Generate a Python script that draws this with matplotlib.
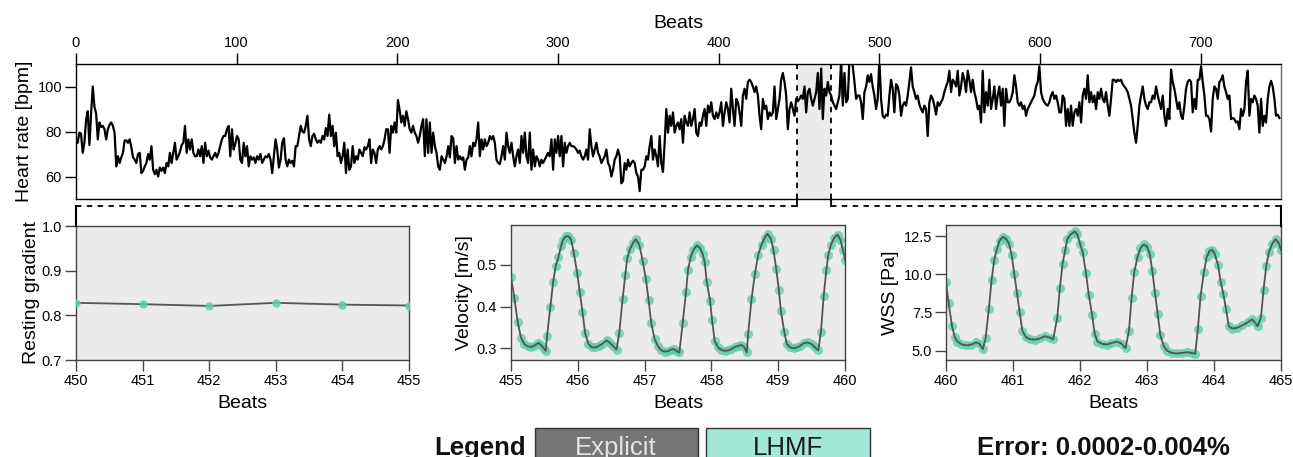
import numpy as np
import matplotlib
matplotlib.use("Agg")
import matplotlib.pyplot as plt
from matplotlib.patches import Rectangle
from matplotlib.lines import Line2D

plt.rcParams['font.family'] = ['Liberation Sans', 'DejaVu Sans']

# ---------------- data ----------------
# Heart rate trace (approx. one value per beat), read in three segments
hr_a = [75, 75, 79.5, 79, 70.5, 75, 85, 89, 74, 88, 100, 91, 88, 76.5, 84, 82, 82.5, 81, 76.5, 81, 83, 84, 82.5, 79.5,
        64.5, 69, 66, 68.5, 70.5, 76, 76, 75, 76.5, 73, 68.5, 67.5, 66, 70, 70.5, 61.5, 62.5, 64.5, 66, 70, 67.5, 73.5,
        63, 61, 63, 60, 64, 62.5, 64, 61.5, 66, 64.5, 70.5, 66, 70.5, 75, 67.5, 69, 71, 74, 75, 82.5, 70.5, 76.5, 72,
        76.5, 70.5, 69, 69, 72, 69, 73.5, 66, 75, 69, 71.5, 68.5, 67.5, 69, 70.5, 68.5, 70.5, 73.5, 76.5, 78, 78, 81,
        82.5, 69, 81, 72, 74.5, 78, 76.5, 67.5, 66, 75, 69, 73.5, 64.5, 69, 67.5, 68.5, 66, 69, 67.5, 70, 66, 67.5, 69,
        68.5, 70, 67.5, 61.5, 69, 76.5, 72, 64, 67.5, 75, 77, 67.5, 64.5, 67.5, 66, 67, 64.5, 73.5, 73.5, 78, 82.5, 80,
        79.5, 82.5, 87, 76.5, 73.5, 78, 79, 76.5, 75, 76, 75, 78, 76.5, 81.5, 78, 87.5, 78, 82.5, 73.5, 79.5, 69, 70.5,
        66, 69, 75, 61.5, 72, 63, 64.5, 73.5, 66, 69, 67.5, 72, 70.5, 69, 73, 72, 73.5, 76.5, 66, 72, 70.5, 66, 72,
        73.5, 72, 73.5, 76.5, 81, 81, 70.5, 82.5, 79.5, 84, 79.5, 94, 89.5, 84, 87, 82.5, 89, 85.5, 81, 79.5, 82.5,
        79.5, 78, 75, 78, 82.5, 85.5, 69, 85.5, 70.5, 84, 70.5, 79.5, 73.5, 70.5, 64.5, 63, 69, 67.5, 66, 69, 73.5]
hr_b = [68.5, 78, 77, 66, 73.5, 67.5, 69, 67.5, 68.5, 63, 67.5, 68.5, 73.5, 69, 75, 73.5, 76.5, 84, 69, 76.5, 72,
        76.5, 73.5, 75, 78, 76.5, 78, 75, 67.5, 66, 65.5, 69, 73.5, 67.5, 79.5, 73.5, 70.5, 75, 69, 64.5, 69, 72, 66,
        78, 70.5, 79.5, 69, 66, 79.5, 63, 72, 64.5, 69, 67.5, 64.5, 67.5, 66, 67.5, 69, 70.5, 69, 76.5, 63, 76.5, 70.5,
        78, 69, 78, 64.5, 75, 70.5, 73.5, 75, 73.5, 73.5, 73, 72, 70.5, 71.5, 69, 67.5, 69, 72, 67.5, 81, 73.5, 69, 72,
        75, 70.5, 69, 66, 67.5, 69, 72, 66, 64.5, 60, 63, 67.5, 69, 72, 69, 57, 58, 66, 63, 67.5, 64.5, 66, 67, 66,
        61.5, 60, 53.5, 63, 63, 64.5, 69, 67.5, 73.5, 78, 67.5, 72, 69, 64.5, 78, 66, 62, 75, 90, 79.5, 87, 82.5, 88.5,
        79.5, 82.5, 84, 81, 85.5, 75, 87, 84, 82.5, 88.5, 82.5, 85.5, 90, 79.5, 78, 84, 82.5, 87, 90, 82.5, 91.5, 88.5,
        93, 87, 85.5, 88.5, 86, 88.5, 93, 82.5, 88.5, 93, 90, 84, 99, 90, 82.5, 94.5, 93, 88.5, 82.5, 96, 99, 94.5,
        102, 103, 102, 100, 97.5, 100, 96, 87, 81, 94.5, 90, 91.5, 85.5, 88.5, 87, 88.5, 100, 85.5, 90, 94.5, 103, 106,
        102, 96, 81, 90, 93, 90, 87, 94.5, 93.5, 94.5, 96, 94.5, 100, 88.5, 97.5, 99, 94.5, 91.5, 94.5, 97.5, 106, 90,
        108, 85.5, 99, 96, 102, 97.5, 96, 93, 91.5, 90, 93, 96, 112, 91.5, 106, 93, 94.5, 112, 112, 109, 102, 94.5, 96,
        96, 93, 85.5, 97.5, 100, 105]
hr_c = [102, 105.5, 100, 96, 90, 94.5, 112, 94.5, 87, 86, 87.5, 87, 96, 103, 99, 88.5, 101, 100, 96, 87, 91.5, 93,
        91.5, 96, 102, 108.5, 100, 97.5, 94.5, 96, 92, 90, 88.5, 91.5, 90, 78, 93, 96, 94.5, 91.5, 87.5, 93, 91.5, 93,
        94.5, 97.5, 100, 102, 107, 97.5, 103, 102, 100, 107, 96, 100, 106, 103, 97.5, 107, 103, 97.5, 103, 97.5, 94.5,
        90, 91.5, 84, 107, 88.5, 97.5, 91.5, 103, 90, 94.5, 100, 90, 96, 100, 91.5, 99, 82.5, 99, 93, 93, 94.5, 97.5,
        105, 100, 93, 91.5, 93, 90, 91.5, 87, 90, 91.5, 93, 94.5, 96, 100, 102, 109, 97.5, 94.5, 93, 92, 91.5, 93, 96,
        97.5, 94.5, 96, 93, 88.5, 88.5, 96, 94.5, 82.5, 90, 82.5, 91.5, 82.5, 88.5, 90, 87, 93, 84, 96, 99, 94.5, 105,
        93, 97.5, 93, 96, 90, 97.5, 94.5, 99, 94.5, 93, 97.5, 91.5, 87, 94.5, 103, 103, 102, 103, 102.5, 103, 101, 100,
        99, 97.5, 94.5, 91.5, 85.5, 79.5, 75, 82.5, 91.5, 96, 100, 94.5, 91.5, 90, 93, 93, 96, 94.5, 100, 96, 93, 90,
        96, 87, 82.5, 90, 85.5, 107.5, 102, 99, 94.5, 90, 93, 87, 85.5, 91.5, 99, 102, 103, 102, 88.5, 94.5, 90, 103,
        103, 109, 102, 96, 87, 87, 85.5, 80, 94.5, 100, 99, 94.5, 102, 103, 105, 100, 97.5, 94.5, 96, 85.5, 86, 85.5,
        84, 84.5, 81, 90, 87, 90, 102, 107, 87, 94.5, 93, 96, 94.5, 91.5, 79.5, 94.5, 82.5, 87, 84, 94.5, 100, 102.5,
        100, 94.5, 87, 87.5, 86]
seg_a_range = (0.0, 231.7)
seg_b_range = (232.7, 492.8)
seg_c_range = (493.8, 749.0)
zoom_window = (449.0, 470.0)

# Resting gradient
rg_beats = [450, 451, 452, 453, 454, 455]
rg_vals = [0.828, 0.825, 0.821, 0.828, 0.824, 0.822]

# Velocity
vel_t = [455.00, 455.05, 455.10, 455.15, 455.20, 455.25, 455.30, 455.35, 455.41, 455.45,
         455.50, 455.52, 455.54, 455.59, 455.63, 455.67, 455.71, 455.75, 455.78, 455.82,
         455.86, 455.90, 455.94, 455.99, 456.03, 456.07, 456.11, 456.16, 456.21, 456.26,
         456.31, 456.36, 456.43, 456.48, 456.53, 456.58, 456.62, 456.67, 456.71, 456.74,
         456.78, 456.83, 456.87, 456.92, 456.97, 457.02, 457.06, 457.10, 457.15, 457.20,
         457.25, 457.30, 457.35, 457.40, 457.44, 457.48, 457.52, 457.57, 457.62, 457.65,
         457.69, 457.73, 457.78, 457.83, 457.87, 457.90, 457.93, 457.98, 458.01, 458.05,
         458.10, 458.15, 458.20, 458.25, 458.30, 458.35, 458.40, 458.45, 458.49, 458.53,
         458.55, 458.60, 458.65, 458.70, 458.75, 458.80, 458.84, 458.89, 458.93, 458.97,
         459.01, 459.04, 459.09, 459.13, 459.18, 459.23, 459.28, 459.33, 459.38, 459.44,
         459.50, 459.55, 459.60, 459.64, 459.68, 459.72, 459.75, 459.79, 459.84, 459.89,
         459.93, 459.97, 460.00]
vel_v = [0.470, 0.421, 0.363, 0.325, 0.310, 0.305, 0.303, 0.306, 0.313, 0.308,
         0.298, 0.294, 0.330, 0.400, 0.458, 0.497, 0.518, 0.545, 0.560, 0.568,
         0.568, 0.560, 0.529, 0.480, 0.434, 0.387, 0.336, 0.310, 0.302, 0.302,
         0.305, 0.310, 0.319, 0.313, 0.305, 0.297, 0.336, 0.417, 0.475, 0.515,
         0.537, 0.553, 0.561, 0.548, 0.510, 0.465, 0.415, 0.360, 0.322, 0.305,
         0.295, 0.292, 0.293, 0.297, 0.298, 0.293, 0.290, 0.360, 0.435, 0.488,
         0.518, 0.535, 0.546, 0.540, 0.525, 0.506, 0.459, 0.414, 0.367, 0.317,
         0.302, 0.296, 0.294, 0.295, 0.298, 0.303, 0.306, 0.308, 0.303, 0.290,
         0.335, 0.417, 0.477, 0.523, 0.548, 0.565, 0.574, 0.562, 0.535, 0.490,
         0.440, 0.390, 0.340, 0.310, 0.302, 0.300, 0.302, 0.306, 0.312, 0.314,
         0.310, 0.302, 0.295, 0.340, 0.424, 0.487, 0.524, 0.548, 0.565, 0.572,
         0.560, 0.535, 0.512]

# Wall shear stress
wss_t = [460.00, 460.04, 460.09, 460.13, 460.17, 460.23, 460.30, 460.38, 460.45, 460.50,
         460.55, 460.59, 460.64, 460.68, 460.72, 460.76, 460.80, 460.85, 460.90, 460.94,
         460.98, 461.02, 461.06, 461.10, 461.14, 461.19, 461.25, 461.33, 461.40, 461.48,
         461.55, 461.60, 461.66, 461.70, 461.74, 461.78, 461.81, 461.86, 461.92, 461.96,
         462.00, 462.04, 462.09, 462.13, 462.18, 462.22, 462.26, 462.33, 462.40, 462.47,
         462.55, 462.62, 462.68, 462.73, 462.77, 462.81, 462.86, 462.90, 462.95, 463.00,
         463.04, 463.08, 463.12, 463.16, 463.20, 463.25, 463.30, 463.37, 463.45, 463.52,
         463.60, 463.67, 463.72, 463.76, 463.80, 463.85, 463.89, 463.93, 463.97, 464.01,
         464.06, 464.10, 464.14, 464.18, 464.22, 464.27, 464.35, 464.42, 464.50, 464.57,
         464.62, 464.65, 464.70, 464.74, 464.78, 464.82, 464.87, 464.92, 464.97, 465.00]
wss_v = [9.50, 8.10, 6.60, 5.90, 5.60, 5.42, 5.35, 5.40, 5.55, 5.45,
         5.10, 5.80, 7.75, 9.60, 10.95, 11.65, 12.20, 12.45, 12.30, 12.00,
         11.25, 10.00, 8.75, 7.50, 6.30, 5.90, 5.75, 5.72, 5.80, 5.95,
         5.85, 5.75, 7.15, 9.10, 10.70, 11.60, 12.30, 12.60, 12.80, 12.60,
         12.00, 11.45, 10.05, 8.67, 7.36, 6.10, 5.60, 5.45, 5.40, 5.50,
         5.60, 5.45, 5.17, 6.30, 8.45, 10.15, 11.15, 11.70, 11.95, 11.80,
         11.35, 10.20, 8.75, 7.40, 6.00, 5.30, 5.00, 4.85, 4.82, 4.85,
         4.90, 4.85, 4.80, 6.45, 8.60, 10.15, 11.10, 11.50, 11.60, 11.35,
         10.60, 9.50, 8.70, 7.70, 6.60, 6.45, 6.50, 6.65, 6.85, 7.05,
         6.80, 6.60, 7.15, 9.00, 10.55, 11.45, 12.00, 12.30, 12.00, 11.60]

# ---------------- figure ----------------
W, H = 1293, 457
fig = plt.figure(figsize=(W / 100, H / 100), dpi=100)


def box(x0, y0, x1, y1):
    return [x0 / W, 1 - y1 / H, (x1 - x0) / W, (y1 - y0) / H]


def fx(x):
    return x / W


def fy(y):
    return 1 - y / H


TICK_FS = 10.5
LABEL_FS = 14

# top: heart rate
ax = fig.add_axes(box(76, 64, 1281, 199))
hr = hr_a + hr_b + hr_c
beats = np.concatenate([np.linspace(*seg_a_range, len(hr_a)),
                        np.linspace(*seg_b_range, len(hr_b)),
                        np.linspace(*seg_c_range, len(hr_c))])
ax.axvspan(*zoom_window, color='#ebebeb', zorder=0, lw=0)
ax.plot(beats, hr, color='black', lw=1.6, zorder=3)
for xv in zoom_window:
    ax.axvline(xv, color='black', lw=1.3, ls=(0, (3, 3)), zorder=2)
ax.set_xlim(0, 750)
ax.set_ylim(50, 110)
ax.xaxis.tick_top()
ax.xaxis.set_label_position('top')
ax.set_xticks([0, 100, 200, 300, 400, 500, 600, 700])
ax.set_yticks([60, 80, 100])
ax.tick_params(axis='both', direction='out', length=8, width=1, labelsize=TICK_FS, pad=2)
ax.set_xlabel('Beats', fontsize=LABEL_FS, labelpad=6)
ax.set_ylabel('Heart rate [bpm]', fontsize=LABEL_FS, labelpad=3)
for s in ax.spines.values():
    s.set_linewidth(1.0)
ax.spines['right'].set_color('#666666')

panel_bg = '#ebebeb'
line_c = '#555555'
dot_c = '#5ccfa8'


def style_panel(a):
    a.set_facecolor(panel_bg)
    for s in a.spines.values():
        s.set_color('#444444')
        s.set_linewidth(1.0)
    a.tick_params(axis='both', direction='out', length=8, width=1, labelsize=TICK_FS,
                  color='#444444', pad=2)
    a.set_xlabel('Beats', fontsize=LABEL_FS, labelpad=5)


# panel 1: resting gradient
a1 = fig.add_axes(box(76, 226, 409, 360))
a1.plot(rg_beats, rg_vals, color=line_c, lw=1.3, zorder=2)
a1.plot(rg_beats, rg_vals, 'o', color=dot_c, ms=6, alpha=0.85, mec='none', zorder=3)
a1.set_xlim(450, 455)
a1.set_ylim(0.7, 1.0)
a1.set_xticks(rg_beats)
a1.set_yticks([0.7, 0.8, 0.9, 1.0])
a1.set_yticklabels(['0.7', '0.8', '0.9', '1.0'])
a1.set_ylabel('Resting gradient', fontsize=LABEL_FS, labelpad=1)
style_panel(a1)

# panel 2: velocity
a2 = fig.add_axes(box(511, 225, 845, 360))
a2.plot(vel_t, vel_v, 'o', color=dot_c, ms=6.5, alpha=0.8, mec='none', zorder=2)
a2.plot(vel_t, vel_v, color=line_c, lw=1.3, zorder=3)
a2.set_xlim(455, 460)
a2.set_ylim(0.272, 0.595)
a2.set_xticks([455, 456, 457, 458, 459, 460])
a2.set_yticks([0.3, 0.4, 0.5])
a2.set_ylabel('Velocity [m/s]', fontsize=LABEL_FS, labelpad=3)
style_panel(a2)

# panel 3: WSS
a3 = fig.add_axes(box(946, 225, 1281, 360))
a3.plot(wss_t, wss_v, 'o', color=dot_c, ms=6.5, alpha=0.8, mec='none', zorder=2)
a3.plot(wss_t, wss_v, color=line_c, lw=1.3, zorder=3)
a3.set_xlim(460, 465)
a3.set_ylim(4.39, 13.22)
a3.set_xticks([460, 461, 462, 463, 464, 465])
a3.set_yticks([5.0, 7.5, 10.0, 12.5])
a3.set_yticklabels(['5.0', '7.5', '10.0', '12.5'])
a3.set_ylabel('WSS [Pa]', fontsize=LABEL_FS, labelpad=3)
style_panel(a3)

# connector lines (figure coordinates)
dash = (0, (3, 3))
x_l = 76 + (1281 - 76) * zoom_window[0] / 750
x_r = 76 + (1281 - 76) * zoom_window[1] / 750
yc = 206
fig.add_artist(Line2D([fx(76), fx(x_l)], [fy(yc), fy(yc)], color='black', lw=1.3, ls=dash))
fig.add_artist(Line2D([fx(x_r), fx(1281)], [fy(yc), fy(yc)], color='black', lw=1.3, ls=dash))
fig.add_artist(Line2D([fx(x_l), fx(x_l)], [fy(199), fy(yc)], color='black', lw=1.3))
fig.add_artist(Line2D([fx(x_r), fx(x_r)], [fy(199), fy(yc)], color='black', lw=1.3))
fig.add_artist(Line2D([fx(76), fx(76)], [fy(yc), fy(226)], color='black', lw=1.5))
fig.add_artist(Line2D([fx(1281), fx(1281)], [fy(yc), fy(226)], color='black', lw=1.5))

# legend row
LEG_FS = 18.5
fig.text(fx(480), fy(455), 'Legend', fontsize=LEG_FS, fontweight='bold', ha='center',
         va='baseline', color='#111111')
fig.add_artist(Rectangle((fx(535), fy(475)), fx(698) - fx(535), fy(428) - fy(475),
                         facecolor='#767676', edgecolor='#333333', lw=1.0))
fig.text(fx(616), fy(455), 'Explicit', fontsize=LEG_FS, ha='center', va='baseline', color='#e4e4e4')
fig.add_artist(Rectangle((fx(706), fy(475)), fx(870) - fx(706), fy(428) - fy(475),
                         facecolor='#a3e8d6', edgecolor='#333333', lw=1.0))
fig.text(fx(788), fy(455), 'LHMF', fontsize=LEG_FS, ha='center', va='baseline', color='#1a1a1a')
fig.text(fx(1103), fy(455), 'Error: 0.0002-0.004%', fontsize=LEG_FS, fontweight='bold',
         ha='center', va='baseline', color='#111111')

fig.savefig('out.png', dpi=100)
